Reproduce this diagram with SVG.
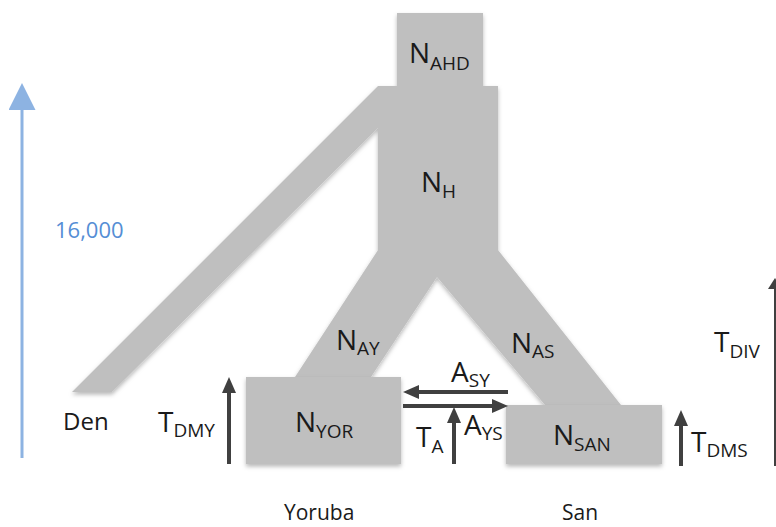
<svg xmlns="http://www.w3.org/2000/svg" width="776" height="527" viewBox="0 0 776 527">
<style>
.pop{fill:#bfbfbf;}
.t{font-family:"Open Sans","Liberation Sans",sans-serif;fill:#1a1a1a;}
.m{font-size:28px;}
.s{font-size:19px;}
.lab{font-size:22px;}
.arr{stroke:#404040;stroke-width:4;fill:none;}
</style>
<defs>
<filter id="sh" x="-10%" y="-10%" width="120%" height="130%">
<feDropShadow dx="0" dy="2.5" stdDeviation="2" flood-color="#000" flood-opacity="0.28"/>
</filter>
<marker id="ah" markerUnits="userSpaceOnUse" markerWidth="16" markerHeight="14" refX="6" refY="7" orient="auto">
<path d="M0,0 L16,7 L0,14 z" fill="#404040"/>
</marker>
<marker id="ahb" markerUnits="userSpaceOnUse" markerWidth="27" markerHeight="27" refX="8" refY="13.5" orient="auto">
<path d="M0,0 L27,13.5 L0,27 z" fill="#8db3e2"/>
</marker>
</defs>
<rect width="776" height="527" fill="#ffffff"/>

<g id="scale">
<line x1="22" y1="458" x2="22" y2="102" stroke="#8db3e2" stroke-width="3" marker-end="url(#ahb)"/>
<text class="t lab" x="55" y="238" style="fill:#558ed5">16,000</text>
</g>

<g id="tree" filter="url(#sh)">
<rect id="AHD" class="pop" x="397" y="13" width="86" height="74"/>
<polygon id="H" class="pop" points="378,86 498,86 498,250 621,405 545,405 437,277 371,377 295,377 378,250 378,128 112,392 72,392"/>
</g>
<g id="YOR"><rect class="pop" x="246" y="377" width="155" height="87" filter="url(#sh)"/>
<text class="t m" x="295" y="432">N<tspan class="s" dy="6">YOR</tspan></text></g>
<g id="SAN"><rect class="pop" x="506" y="405" width="156" height="59" filter="url(#sh)"/>
<text class="t m" x="553" y="445">N<tspan class="s" dy="6">SAN</tspan></text></g>

<g id="labels">
<text class="t m" x="409" y="63">N<tspan class="s" dy="7">AHD</tspan></text>
<text class="t m" x="421" y="192">N<tspan class="s" dy="6">H</tspan></text>
<text class="t m" x="336" y="350">N<tspan class="s" dy="5">AY</tspan></text>
<text class="t m" x="511" y="353">N<tspan class="s" dy="5">AS</tspan></text>
<text class="t" x="63" y="430" style="font-size:24px">Den</text>
<text class="t" x="284" y="520" style="font-size:21px">Yoruba</text>
<text class="t" x="562" y="520" style="font-size:21px">San</text>
</g>

<g id="connectors">
<line class="arr" x1="508" y1="392" x2="413" y2="392" marker-end="url(#ah)"/>
<line class="arr" x1="403" y1="406" x2="498" y2="406" marker-end="url(#ah)"/>
<line class="arr" x1="454" y1="464" x2="454" y2="417" marker-end="url(#ah)"/>
<line class="arr" x1="229" y1="464" x2="229" y2="387" marker-end="url(#ah)"/>
<line class="arr" x1="681" y1="466" x2="681" y2="420" marker-end="url(#ah)"/>
<line x1="775" y1="466" x2="775" y2="286" stroke="#404040" stroke-width="2"/>
<polygon points="775,278 768,289 782,289" fill="#404040"/>
</g>

<g id="arrow-labels">
<text class="t m" x="451" y="382">A<tspan class="s" dy="5">SY</tspan></text>
<text class="t m" x="464" y="435">A<tspan class="s" dy="5">YS</tspan></text>
<text class="t m" x="416" y="447">T<tspan class="s" dy="6">A</tspan></text>
<text class="t m" x="158" y="432">T<tspan class="s" dy="5">DMY</tspan></text>
<text class="t m" x="691" y="452">T<tspan class="s" dy="5">DMS</tspan></text>
<text class="t m" x="714" y="352">T<tspan class="s" dy="6">DIV</tspan></text>
</g>
</svg>
